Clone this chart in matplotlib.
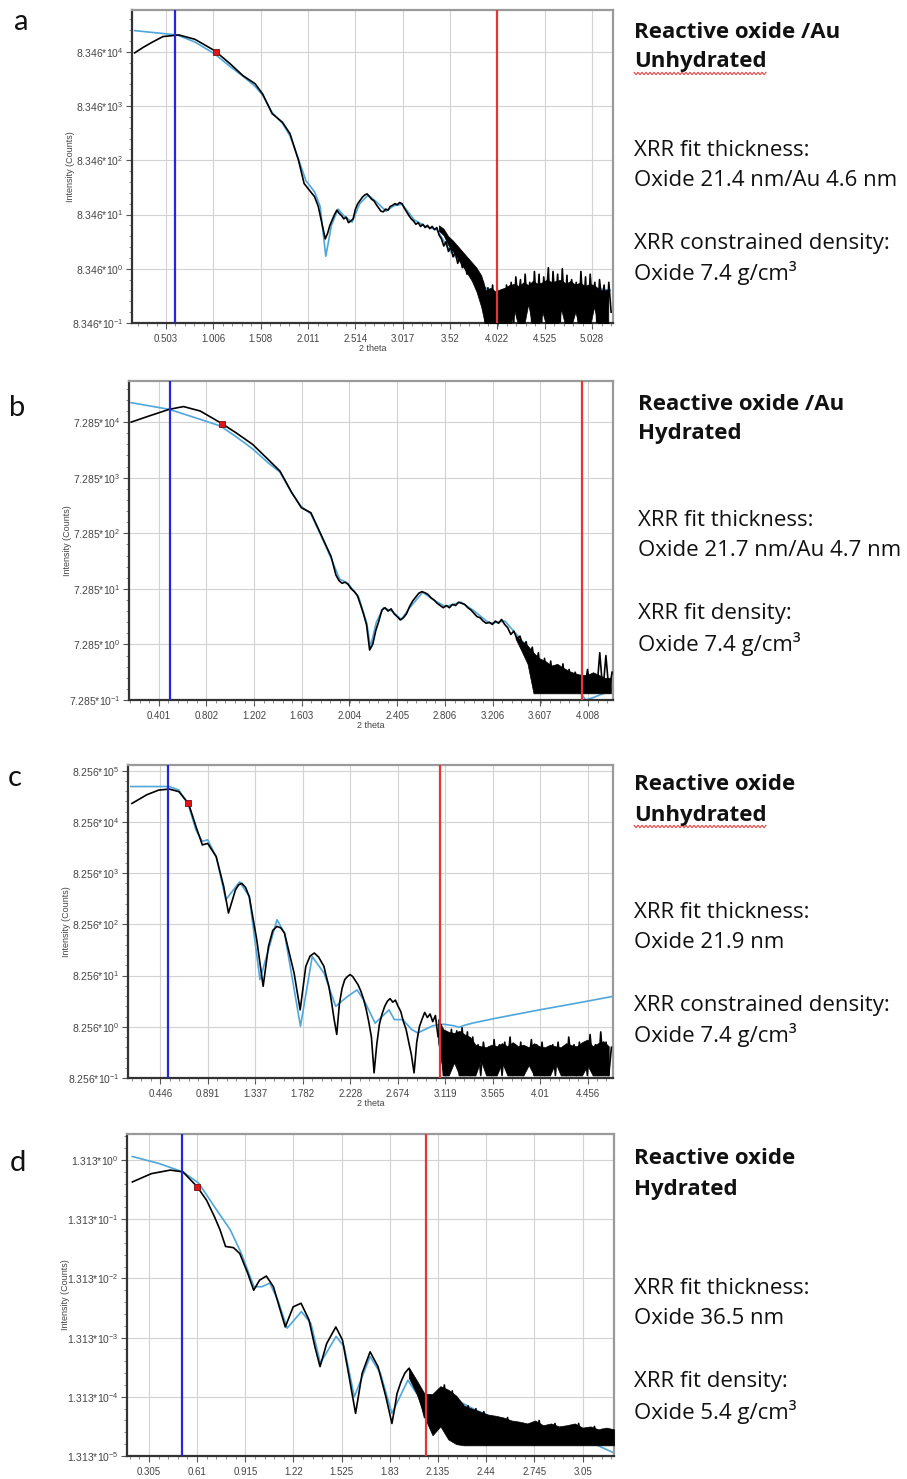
import numpy as np
import matplotlib
matplotlib.use('Agg')
import matplotlib.pyplot as plt
from matplotlib.ticker import FixedLocator, NullFormatter
from matplotlib.lines import Line2D

plt.rcParams['font.family'] = ['Liberation Sans', 'DejaVu Sans']
plt.rcParams['mathtext.fontset'] = 'custom'
plt.rcParams['mathtext.rm'] = 'Liberation Sans'
plt.rcParams['mathtext.it'] = 'Liberation Sans:italic'

# all intensities are kept as decades: I = base * 10**dec

# ---------------- panel a : reactive oxide / Au, unhydrated
a_base = 8.346
a_exps = [-1, 0, 1, 2, 3, 4]
a_xticks = ['0.503', '1.006', '1.508', '2.011', '2.514', '3.017', '3.52', '4.022', '4.525', '5.028']
a_xlim = (0.142, 5.25)
a_declim = (-1.0, 4.77)
a_meas_x = [0.17, 0.26, 0.35, 0.47, 0.64, 0.81, 1.02, 1.19, 1.32, 1.45, 1.53, 1.63, 1.74, 1.82, 1.91, 1.97, 2.08]
a_meas_dec = [3.98, 4.08, 4.17, 4.28, 4.31, 4.23, 4.02, 3.77, 3.56, 3.41, 3.22, 2.86, 2.70, 2.49, 2.00, 1.57, 1.33]
a_noise_span = (2.12, 5.23)
a_noise_dec = [1.15, 0.95, 0.75, 0.55, 0.65, 0.80, 0.90, 1.00, 1.08, 1.02, 0.98, 0.92, 0.95, 0.85, 0.88, 0.92,
               1.10, 1.20, 1.26, 1.32, 1.36, 1.38, 1.33, 1.28, 1.25, 1.18, 1.12, 1.06, 1.05, 1.10, 1.08, 1.15,
               1.17, 1.20, 1.18, 1.22, 1.20, 1.12, 1.05, 0.98, 0.92, 0.88, 0.82, 0.85, 0.78, 0.82, 0.76, 0.80,
               0.74, 0.78, 0.72, 0.76, 0.62, 0.55, 0.42, 0.50, 0.32, 0.40, 0.22, 0.30, 0.10, 0.22, 0.02, 0.12,
               -0.10, 0.05, -0.15, -0.02, -0.35, -0.10, -0.55, -0.25, -1.1, -0.35, -1.1, -0.30, -0.9, -0.35,
               -1.1, -0.40, -1.1, -0.30, -0.8, -0.25, -1.1, -0.15, -0.6, -0.20, -1.1, -0.10, -0.7, -0.25,
               -1.1, -0.05, -0.8, -0.10, -1.1, -0.15, -0.6, 0.02, -1.1, -0.05, -0.7, -0.10, -1.1, 0.0,
               -0.8, -0.12, -1.1, -0.20, -0.6, -0.25, -1.1, -0.05, -0.8, -0.15, -1.1, -0.10, -0.7, -0.25,
               -1.1, -0.20, -0.6, -0.30, -1.1, -0.25, -0.8]
a_env_span = (3.40, 5.20)
a_env_hi = [0.80, 0.74, 0.60, 0.52, 0.42, 0.32, 0.22, 0.12, 0.02, -0.12,
            -0.40, -0.35, -0.42, -0.38, -0.35, -0.30, -0.28, -0.32, -0.25, -0.30,
            -0.22, -0.28, -0.25, -0.20, -0.25, -0.22, -0.20, -0.28, -0.22, -0.30,
            -0.25, -0.32, -0.28, -0.30, -0.38, -0.40, -0.38]
a_env_lo = [0.70, 0.62, 0.44, 0.32, 0.20, 0.06, -0.08, -0.22, -0.42, -0.70,
            -1.1, -1.1, -1.1, -1.1, -1.1, -1.1, -0.75, -1.1, -1.1, -0.65,
            -1.1, -1.1, -0.8, -1.1, -1.1, -1.1, -0.75, -1.1, -1.1, -0.8,
            -1.1, -1.1, -1.1, -0.7, -1.1, -1.1, -1.1]
a_fit_x = [0.17, 0.62, 0.81, 1.02, 1.19, 1.32, 1.45, 1.53, 1.63, 1.74, 1.82, 1.91, 1.99, 2.08, 2.14, 2.20,
           2.26, 2.33, 2.39, 2.48, 2.56, 2.65, 2.74, 2.84, 2.92, 3.01, 3.14, 3.26, 3.38, 3.51, 3.64, 3.76,
           3.89, 4.04, 4.28, 4.57, 4.86, 5.22]
a_fit_dec = [4.39, 4.31, 4.18, 3.96, 3.72, 3.55, 3.36, 3.20, 2.88, 2.68, 2.45, 2.02, 1.62, 1.42, 1.15, 0.23,
             0.80, 1.10, 0.98, 0.86, 1.20, 1.36, 1.23, 1.06, 1.16, 1.19, 0.90, 0.78, 0.72, 0.35, 0.10, -0.05,
             -0.35, -0.45, -0.35, -0.25, -0.30, -0.40]
a_blue = 0.594
a_red = 4.022
a_mark = (1.03, 4.0)
a_text = ['Reactive oxide /Au', 'Unhydrated', 'XRR fit thickness:', 'Oxide 21.4 nm/Au 4.6 nm',
          'XRR constrained density:', 'Oxide 7.4 g/cm³']

# ---------------- panel b : reactive oxide / Au, hydrated
b_base = 7.285
b_exps = [-1, 0, 1, 2, 3, 4]
b_xticks = ['0.401', '0.802', '1.202', '1.603', '2.004', '2.405', '2.806', '3.206', '3.607', '4.008']
b_xlim = (0.152, 4.218)
b_declim = (-1.0, 4.74)
b_meas_x = [0.17, 0.32, 0.49, 0.61, 0.75, 0.92, 1.05, 1.19, 1.32, 1.42, 1.52, 1.60, 1.68, 1.76, 1.85]
b_meas_dec = [4.00, 4.11, 4.23, 4.28, 4.20, 3.99, 3.81, 3.60, 3.33, 3.12, 2.73, 2.46, 2.37, 2.00, 1.58]
b_noise_span = (1.89, 4.21)
b_noise_dec = [1.25, 1.15, 1.10, 1.12, 1.08, 1.00, 0.95, 0.88, 0.72, 0.55, 0.35, -0.10, 0.00, 0.25, 0.42, 0.62,
               0.66, 0.60, 0.64, 0.55, 0.50, 0.44, 0.48, 0.55, 0.68, 0.78, 0.85, 0.92, 0.95, 0.93, 0.90, 0.84,
               0.80, 0.74, 0.70, 0.66, 0.70, 0.66, 0.72, 0.70, 0.76, 0.74, 0.72, 0.66, 0.62, 0.56, 0.50, 0.48,
               0.42, 0.38, 0.40, 0.36, 0.42, 0.38, 0.45, 0.36, 0.30, 0.18, 0.24, 0.10, 0.15, -0.05, 0.05, -0.25,
               -0.05, -0.45, -0.15, -0.85, -0.25, -0.85, -0.30, -0.85, -0.40, -0.85, -0.35, -0.85, -0.45, -0.85,
               -0.50, -0.85, -0.55, -0.85, -0.45, -0.85, -0.60, -0.85, -0.15, -0.85, -0.20, -0.85, -0.50]
b_env_span = (3.40, 4.20)
b_env_hi = [0.16, 0.06, -0.02, -0.15, -0.25, -0.30, -0.38, -0.35, -0.42, -0.48,
            -0.52, -0.55, -0.55, -0.50, -0.55, -0.60, -0.60]
b_env_lo = [0.10, -0.12, -0.35, -0.88, -0.88, -0.88, -0.88, -0.88, -0.88, -0.88,
            -0.88, -0.88, -0.88, -0.88, -0.88, -0.88, -0.88]
b_fit_x = [0.17, 0.49, 0.75, 0.92, 1.05, 1.19, 1.32, 1.42, 1.52, 1.60, 1.68, 1.76, 1.85, 1.92, 1.99, 2.08,
           2.15, 2.18, 2.23, 2.29, 2.36, 2.44, 2.51, 2.62, 2.71, 2.81, 2.94, 3.04, 3.18, 3.31, 3.40, 3.50,
           3.60, 3.70, 3.85, 3.99, 4.06, 4.21]
b_fit_dec = [4.35, 4.23, 4.05, 3.93, 3.74, 3.52, 3.27, 3.10, 2.72, 2.48, 2.35, 1.98, 1.55, 1.18, 1.10, 0.86,
             0.38, -0.05, 0.40, 0.66, 0.60, 0.45, 0.66, 0.94, 0.80, 0.68, 0.76, 0.62, 0.38, 0.42, 0.20, -0.05,
             -0.30, -0.45, -0.60, -1.00, -0.95, -0.82]
b_blue = 0.493
b_red = 3.961
b_mark = (0.93, 3.97)
b_text = ['Reactive oxide /Au', 'Hydrated', 'XRR fit thickness:', 'Oxide 21.7 nm/Au 4.7 nm',
          'XRR fit density:', 'Oxide 7.4 g/cm³']

# ---------------- panel c : reactive oxide, unhydrated
c_base = 8.256
c_exps = [-1, 0, 1, 2, 3, 4, 5]
c_xticks = ['0.446', '0.891', '1.337', '1.782', '2.228', '2.674', '3.119', '3.565', '4.01', '4.456']
c_xlim = (0.143, 4.690)
c_declim = (-1.0, 5.11)
c_meas_x = [0.18, 0.32, 0.43, 0.53, 0.62, 0.71, 0.78, 0.84, 0.89, 0.97, 1.04, 1.085, 1.15, 1.18, 1.21, 1.245,
            1.28, 1.35, 1.41, 1.46, 1.50, 1.54, 1.575, 1.61, 1.70, 1.757, 1.81, 1.85, 1.89, 1.93, 1.98]
c_meas_dec = [4.36, 4.53, 4.62, 4.64, 4.59, 4.36, 3.91, 3.55, 3.58, 3.32, 2.74, 2.22, 2.67, 2.77, 2.80, 2.72,
              2.54, 1.70, 0.79, 1.57, 1.88, 1.96, 1.93, 1.83, 1.05, 0.33, 1.18, 1.38, 1.44, 1.36, 1.18]
c_noise_span = (2.0, 4.675)
c_noise_dec = [1.00, 0.80, 0.50, 0.15, -0.15, 0.45, 0.75, 0.92, 0.98, 1.02, 0.98, 0.90, 0.82, 0.70, 0.55, 0.35,
               0.10, -0.20, -0.90, -0.35, 0.05, 0.25, 0.40, 0.50, 0.55, 0.48, 0.52, 0.40, 0.30, 0.10, -0.05,
               -0.30, -0.55, -0.90, -0.30, 0.00, 0.15, 0.28, 0.18, 0.25, 0.10, 0.22, -0.20, 0.05,
               -0.95, -0.10, -0.90, -0.05, -0.70, -0.08, -0.95, -0.02, -0.60, -0.10, -0.95, -0.20, -0.80, -0.35,
               -0.95, -0.30, -0.70, -0.40, -0.95, -0.25, -0.80, -0.35, -0.95, -0.30, -0.75, -0.20, -0.95, -0.35,
               -0.80, -0.30, -0.95, -0.40, -0.70, -0.25, -0.95, -0.35, -0.80, -0.30, -0.95, -0.45, -0.75, -0.35,
               -0.95, -0.30, -0.80, -0.40, -0.95, -0.20, -0.70, -0.35, -0.95, -0.30, -0.85, -0.45, -0.95, -0.15,
               -0.75, -0.35, -0.95, -0.10, -0.80, -0.30, -0.95, -0.40]
c_env_span = (3.05, 4.65)
c_env_hi = [0.15, -0.05, -0.10, -0.12, -0.08, -0.15, -0.20, -0.35, -0.38, -0.40,
            -0.35, -0.38, -0.32, -0.38, -0.30, -0.38, -0.35, -0.40, -0.32, -0.38,
            -0.40, -0.35, -0.38, -0.40, -0.32, -0.36, -0.38, -0.30, -0.25, -0.38,
            -0.32, -0.28, -0.38]
c_env_lo = [-0.30, -0.95, -0.95, -0.70, -0.95, -0.95, -0.95, -0.95, -0.65, -0.95,
            -0.95, -0.95, -0.70, -0.95, -0.95, -0.95, -0.95, -0.75, -0.95, -0.95,
            -0.95, -0.95, -0.70, -0.95, -0.95, -0.95, -0.95, -0.95, -0.75, -0.95,
            -0.95, -0.95, -0.95]
c_fit_x = [0.17, 0.53, 0.62, 0.71, 0.78, 0.84, 0.89, 0.97, 1.06, 1.19, 1.28, 1.38, 1.54, 1.61, 1.76, 1.87,
           1.98, 2.09, 2.20, 2.29, 2.36, 2.46, 2.59, 2.64, 2.72, 2.80, 2.86, 3.00, 3.10, 3.20, 3.245, 3.30,
           3.37, 3.60, 4.00, 4.40, 4.68]
c_fit_dec = [4.69, 4.69, 4.62, 4.33, 3.84, 3.62, 3.65, 3.32, 2.48, 2.83, 2.54, 0.92, 2.09, 1.83, 0.01, 1.37,
             1.05, 0.40, 0.59, 0.72, 0.50, 0.07, 0.33, 0.14, 0.14, -0.05, -0.12, 0.02, 0.05, 0.02, -0.01, 0.03,
             0.07, 0.17, 0.33, 0.48, 0.59]
c_blue = 0.518
c_red = 3.071
c_mark = (0.71, 4.36)
c_text = ['Reactive oxide', 'Unhydrated', 'XRR fit thickness:', 'Oxide 21.9 nm',
          'XRR constrained density:', 'Oxide 7.4 g/cm³']

# ---------------- panel d : reactive oxide, hydrated
d_base = 1.313
d_exps = [-5, -4, -3, -2, -1, 0]
d_xticks = ['0.305', '0.61', '0.915', '1.22', '1.525', '1.83', '2.135', '2.44', '2.745', '3.05']
d_xlim = (0.166, 3.249)
d_declim = (-5.0, 0.44)
d_meas_x = [0.20, 0.32, 0.44, 0.52, 0.61, 0.67, 0.72, 0.755, 0.79, 0.84, 0.88, 0.93, 0.968, 1.005, 1.048,
            1.093, 1.13, 1.168, 1.218, 1.268, 1.318, 1.355, 1.388, 1.43, 1.488, 1.53, 1.568, 1.613, 1.655,
            1.705, 1.755, 1.805, 1.843, 1.86]
d_meas_dec = [-0.37, -0.23, -0.17, -0.20, -0.45, -0.68, -0.96, -1.18, -1.46, -1.48, -1.58, -1.91, -2.20, -2.03,
              -1.96, -2.14, -2.48, -2.82, -2.48, -2.42, -2.70, -3.15, -3.49, -3.10, -2.82, -3.04, -3.60, -4.28,
              -3.60, -3.24, -3.49, -4.00, -4.45, -4.20]
d_noise_span = (1.875, 3.25)
d_noise_dec = [-3.95, -3.75, -3.60, -3.52, -3.65, -3.85, -4.05, -4.35, -4.10, -4.55, -3.95, -4.30, -3.80, -4.45,
               -3.90, -4.55, -4.10, -4.75, -4.15, -4.70, -4.20, -4.80, -4.25, -4.75, -4.35, -4.80, -4.40, -4.80,
               -4.35, -4.80, -4.50, -4.80, -4.45, -4.80, -4.50, -4.80, -4.40, -4.80, -4.55, -4.80, -4.45, -4.80,
               -4.55, -4.80, -4.50, -4.80, -4.45, -4.80, -4.55, -4.80, -4.50, -4.80, -4.55, -4.80, -4.60, -4.80]
d_env_span = (1.95, 3.25)
d_env_hi = [-3.50, -3.72, -3.95, -3.95, -3.82, -3.88, -3.98, -4.15, -4.20, -4.25,
            -4.30, -4.32, -4.35, -4.40, -4.42, -4.45, -4.40, -4.48, -4.45, -4.50,
            -4.48, -4.45, -4.52, -4.50, -4.55, -4.52, -4.55]
d_env_lo = [-3.68, -3.95, -4.35, -4.65, -4.50, -4.72, -4.80, -4.82, -4.82, -4.82,
            -4.82, -4.82, -4.82, -4.82, -4.82, -4.82, -4.82, -4.82, -4.82, -4.82,
            -4.82, -4.82, -4.82, -4.82, -4.82, -4.82, -4.82]
d_fit_x = [0.20, 0.37, 0.52, 0.62, 0.72, 0.82, 0.89, 0.97, 1.02, 1.07, 1.12, 1.18, 1.27, 1.33, 1.39, 1.49,
           1.54, 1.605, 1.705, 1.77, 1.843, 1.944, 2.056, 2.17, 2.37, 2.62, 2.87, 3.12, 3.25]
d_fit_dec = [0.06, -0.06, -0.20, -0.39, -0.79, -1.18, -1.58, -2.14, -2.14, -2.08, -2.36, -2.84, -2.56, -2.76,
             -3.43, -2.98, -3.15, -4.00, -3.32, -3.60, -4.28, -3.72, -4.17, -3.94, -4.22, -4.50, -4.67, -4.79,
             -4.95]
d_blue = 0.516
d_red = 2.058
d_mark = (0.61, -0.45)
d_text = ['Reactive oxide', 'Hydrated', 'XRR fit thickness:', 'Oxide 36.5 nm',
          'XRR fit density:', 'Oxide 5.4 g/cm³']

W, H = 907, 1479
fig = plt.figure(figsize=(W / 100, H / 100), dpi=100)
fig.patch.set_facecolor('white')


def px_rect(left, right, top, bottom):
    return [left / W, 1 - bottom / H, (right - left) / W, (bottom - top) / H]


def draw_panel(rect, base, exps, xticks, xlim, declim, meas_x, meas_dec, noise_span, noise_dec,
               env_span, env_hi, env_lo, fit_x, fit_dec, blue_x, red_x, mark, xlabel=True):
    ax = fig.add_axes(rect)
    ax.set_yscale('log')

    noise_x = np.linspace(noise_span[0], noise_span[1], len(noise_dec))
    mx = np.concatenate([meas_x, noise_x])
    my = base * 10.0 ** np.concatenate([meas_dec, noise_dec])
    fy = base * 10.0 ** np.asarray(fit_dec)
    env_x = np.linspace(env_span[0], env_span[1], len(env_hi))

    ax.plot(fit_x, fy, color='#4ea6dc', lw=1.2, zorder=2)
    ax.fill_between(env_x, base * 10.0 ** np.asarray(env_lo), base * 10.0 ** np.asarray(env_hi),
                    color='black', lw=0.5, zorder=3)
    ax.plot(mx, my, color='black', lw=1.2, zorder=3)
    ax.axvline(blue_x, color='#2626e0', lw=1.6, zorder=4)
    ax.axvline(red_x, color='#e63535', lw=1.6, zorder=4)
    ax.plot([mark[0]], [base * 10.0 ** mark[1]], marker='s', ms=5, mfc='#e01515', mec='#7a1010',
            mew=0.6, zorder=5)

    ax.set_xlim(*xlim)
    ax.set_ylim(base * 10.0 ** declim[0], base * 10.0 ** declim[1])

    xt = [float(t) for t in xticks]
    step = xt[1] - xt[0]
    ax.xaxis.set_major_locator(FixedLocator(xt))
    ax.set_xticklabels(xticks)
    ax.xaxis.set_minor_locator(FixedLocator(np.arange(xt[0] - step, xlim[1], step / 5)))
    ax.xaxis.set_minor_formatter(NullFormatter())

    ax.yaxis.set_major_locator(FixedLocator([base * 10.0 ** e for e in exps]))
    ax.set_yticklabels(['%.3f*10$^{%d}$' % (base, e) for e in exps])
    minors = [base * 10.0 ** (e + k / 5) for e in range(exps[0], exps[-1] + 1) for k in range(1, 5)]
    ax.yaxis.set_minor_locator(FixedLocator(minors))
    ax.yaxis.set_minor_formatter(NullFormatter())

    ax.grid(True, which='major', color='#d2d2d2', lw=0.8)
    ax.set_axisbelow(True)
    ax.tick_params(which='major', length=4, width=0.8, color='#555555', labelsize=7,
                   labelcolor='#444444', pad=2)
    ax.tick_params(axis='y', which='major', labelsize=7.5)
    ax.tick_params(which='minor', length=2.5, width=0.6, color='#777777')
    ax.tick_params(axis='x', which='major', pad=4)
    for side in ['left', 'bottom']:
        ax.spines[side].set_color('#333333')
        ax.spines[side].set_linewidth(1.6)
    for side in ['top', 'right']:
        ax.spines[side].set_color('#9a9a9a')
        ax.spines[side].set_linewidth(1.6)

    if xlabel:
        ax.set_xlabel('2 theta', fontsize=6.5, color='#444444', labelpad=0)
    ax.set_ylabel('Intensity (Counts)', fontsize=6.5, color='#444444')
    ax.yaxis.set_label_coords(-0.118, 0.5)
    return ax


draw_panel(px_rect(132, 613, 10, 323), a_base, a_exps, a_xticks, a_xlim, a_declim, a_meas_x, a_meas_dec,
           a_noise_span, a_noise_dec, a_env_span, a_env_hi, a_env_lo, a_fit_x, a_fit_dec, a_blue, a_red, a_mark)
draw_panel(px_rect(129, 613, 381, 700), b_base, b_exps, b_xticks, b_xlim, b_declim, b_meas_x, b_meas_dec,
           b_noise_span, b_noise_dec, b_env_span, b_env_hi, b_env_lo, b_fit_x, b_fit_dec, b_blue, b_red, b_mark)
draw_panel(px_rect(128, 613, 765, 1078), c_base, c_exps, c_xticks, c_xlim, c_declim, c_meas_x, c_meas_dec,
           c_noise_span, c_noise_dec, c_env_span, c_env_hi, c_env_lo, c_fit_x, c_fit_dec, c_blue, c_red, c_mark)
draw_panel(px_rect(127, 614, 1134, 1456), d_base, d_exps, d_xticks, d_xlim, d_declim, d_meas_x, d_meas_dec,
           d_noise_span, d_noise_dec, d_env_span, d_env_hi, d_env_lo, d_fit_x, d_fit_dec, d_blue, d_red, d_mark,
           xlabel=False)

# panel letters
for letter, (lx, ly) in zip(['a', 'b', 'c', 'd'], [(21, 22), (17, 408), (15, 778), (18, 1163)]):
    fig.text(lx / W, 1 - ly / H, letter, fontsize=21, family=['Lato', 'DejaVu Sans'],
             ha='center', va='center', color='#111111')

# side notes
renderer = fig.canvas.get_renderer()
to_fig = fig.transFigure.inverted()
note_rows = [(a_text, 634, [32, 62, 150, 180, 243, 273]),
             (b_text, 638, [404, 434, 521, 551, 614, 644]),
             (c_text, 634, [785, 815, 912, 942, 1005, 1035]),
             (d_text, 634, [1159, 1189, 1289, 1319, 1382, 1412])]
for lines, tx, tys in note_rows:
    for i, (s, ty) in enumerate(zip(lines, tys)):
        t = fig.text(tx / W, 1 - ty / H, s, fontsize=16, family=['Open Sans', 'DejaVu Sans'],
                     fontweight='bold' if i < 2 else 'normal', ha='left', va='center', color='#111111')
        if s == 'Unhydrated':
            bb = t.get_window_extent(renderer)
            zx = np.arange(bb.x0, bb.x1, 2.0)
            zy = bb.y0 - 1 + np.where(np.arange(len(zx)) % 2 == 0, 1.2, -1.2)
            pts = to_fig.transform(np.column_stack([zx, zy]))
            fig.add_artist(Line2D(pts[:, 0], pts[:, 1], color='#e03030', lw=0.7,
                                  transform=fig.transFigure))

fig.savefig('out.png', dpi=100, facecolor='white')
